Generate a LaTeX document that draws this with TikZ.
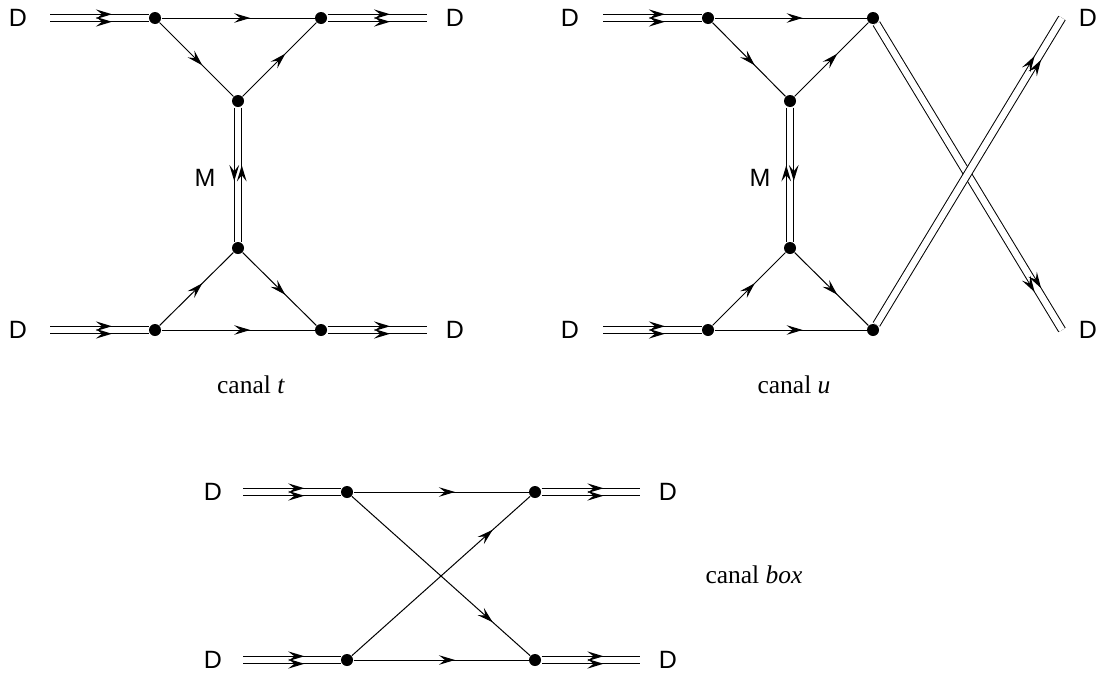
\documentclass[tikz,border=0pt]{standalone}
\usepackage{fontspec}
\setmainfont{Liberation Serif}
\setsansfont{Liberation Sans}
\usetikzlibrary{arrows.meta,decorations.markings}

\begin{document}
\begin{tikzpicture}[x=1pt,y=-1pt,line width=1pt,
 >={Stealth[length=16pt,width=9.5pt,inset=6pt]},
 vtx/.style={circle,fill,inner sep=0pt,minimum size=12pt},
 part/.style={font=\sffamily\fontsize{25}{28}\selectfont,inner sep=0pt},
 canal/.style={font=\fontsize{25.5}{28}\selectfont,inner sep=0pt},
 fer/.style={postaction={decorate,decoration={markings,mark=at position #1 with {\arrow{>}}}}},
 fer/.default=0.58,
 mes/.style={double,double distance=6.5pt},
 mesfer/.style={mes,postaction={decorate,decoration={markings,mark=at position #1 with
   {\pgfsetinnerlinewidth{0pt}%
    \begin{scope}[yshift=3.75pt]\arrow{>}\end{scope}%
    \begin{scope}[yshift=-3.75pt]\arrow{>}\end{scope}}}}},
 mesfer/.default=0.63,
 mesanti/.style={mes,postaction={decorate,decoration={markings,mark=at position 0.55 with
   {\pgfsetinnerlinewidth{0pt}%
    \begin{scope}[yshift=3.75pt]\arrow{<}\end{scope}%
    \begin{scope}[yshift=-3.75pt]\arrow{>}\end{scope}}}}},
 mesantii/.style={mes,postaction={decorate,decoration={markings,mark=at position 0.55 with
   {\pgfsetinnerlinewidth{0pt}%
    \begin{scope}[yshift=3.75pt]\arrow{>}\end{scope}%
    \begin{scope}[yshift=-3.75pt]\arrow{<}\end{scope}}}}}]
\useasboundingbox (0,0) rectangle (1099,691);

% canal t
\node[vtx] (t1) at (155,18) {};
\node[vtx] (t2) at (321,18) {};
\node[vtx] (t3) at (238,101) {};
\node[vtx] (t4) at (238,248) {};
\node[vtx] (t5) at (155,330) {};
\node[vtx] (t6) at (321,330) {};
\coordinate (tin1) at (50,18);
\coordinate (tout1) at (427,18);
\coordinate (tin2) at (50,330);
\coordinate (tout2) at (427,330);
\node[part] (tD1) at (18,18) {D};
\node[part] (tD2) at (455,18) {D};
\node[part] (tD3) at (18,330) {D};
\node[part] (tD4) at (455,330) {D};
\node[part] (tM) at (205,178) {M};
\draw[mesfer] (tin1)--(t1);
\draw[mesfer] (t2)--(tout1);
\draw[mesfer] (tin2)--(t5);
\draw[mesfer] (t6)--(tout2);
\draw[fer] (t1)--(t2);
\draw[fer] (t1)--(t3);
\draw[fer] (t3)--(t2);
\draw[mesanti] (t3)--(t4);
\draw[fer] (t5)--(t4);
\draw[fer] (t4)--(t6);
\draw[fer] (t5)--(t6);
\node[canal] (tcap) at (251,385) {canal \textit{t}};

% canal u
\node[vtx] (u1) at (708,18) {};
\node[vtx] (u2) at (873,18) {};
\node[vtx] (u3) at (790,101) {};
\node[vtx] (u4) at (790,248) {};
\node[vtx] (u5) at (708,330) {};
\node[vtx] (u6) at (873,330) {};
\coordinate (uin1) at (603,18);
\coordinate (uout1) at (1062,330);
\coordinate (uin2) at (603,330);
\coordinate (uout2) at (1062,18);
\node[part] (uD1) at (570,18) {D};
\node[part] (uD2) at (1088,18) {D};
\node[part] (uD3) at (570,330) {D};
\node[part] (uD4) at (1088,330) {D};
\node[part] (uM) at (760,178) {M};
\draw[mesfer] (uin1)--(u1);
\draw[mesfer] (uin2)--(u5);
\draw[mesfer=0.87] (u2)--(uout1);
\draw[mesfer=0.87] (u6)--(uout2);
\draw[fer] (u1)--(u2);
\draw[fer] (u1)--(u3);
\draw[fer] (u3)--(u2);
\draw[mesantii] (u3)--(u4);
\draw[fer] (u5)--(u4);
\draw[fer] (u4)--(u6);
\draw[fer] (u5)--(u6);
\node[canal] (ucap) at (794,385) {canal \textit{u}};

% canal box
\node[vtx] (b1) at (347,492) {};
\node[vtx] (b2) at (535,492) {};
\node[vtx] (b3) at (347,660) {};
\node[vtx] (b4) at (535,660) {};
\coordinate (bin1) at (243,492);
\coordinate (bout1) at (640,492);
\coordinate (bin2) at (243,660);
\coordinate (bout2) at (640,660);
\node[part] (bD1) at (213,492) {D};
\node[part] (bD2) at (668,492) {D};
\node[part] (bD3) at (213,660) {D};
\node[part] (bD4) at (668,660) {D};
\draw[mesfer] (bin1)--(b1);
\draw[mesfer] (b2)--(bout1);
\draw[mesfer] (bin2)--(b3);
\draw[mesfer] (b4)--(bout2);
\draw[fer] (b1)--(b2);
\draw[fer] (b3)--(b4);
\draw[fer=0.79] (b1)--(b4);
\draw[fer=0.79] (b3)--(b2);
\node[canal] (bcap) at (754,575) {canal \textit{box}};
\end{tikzpicture}
\end{document}
